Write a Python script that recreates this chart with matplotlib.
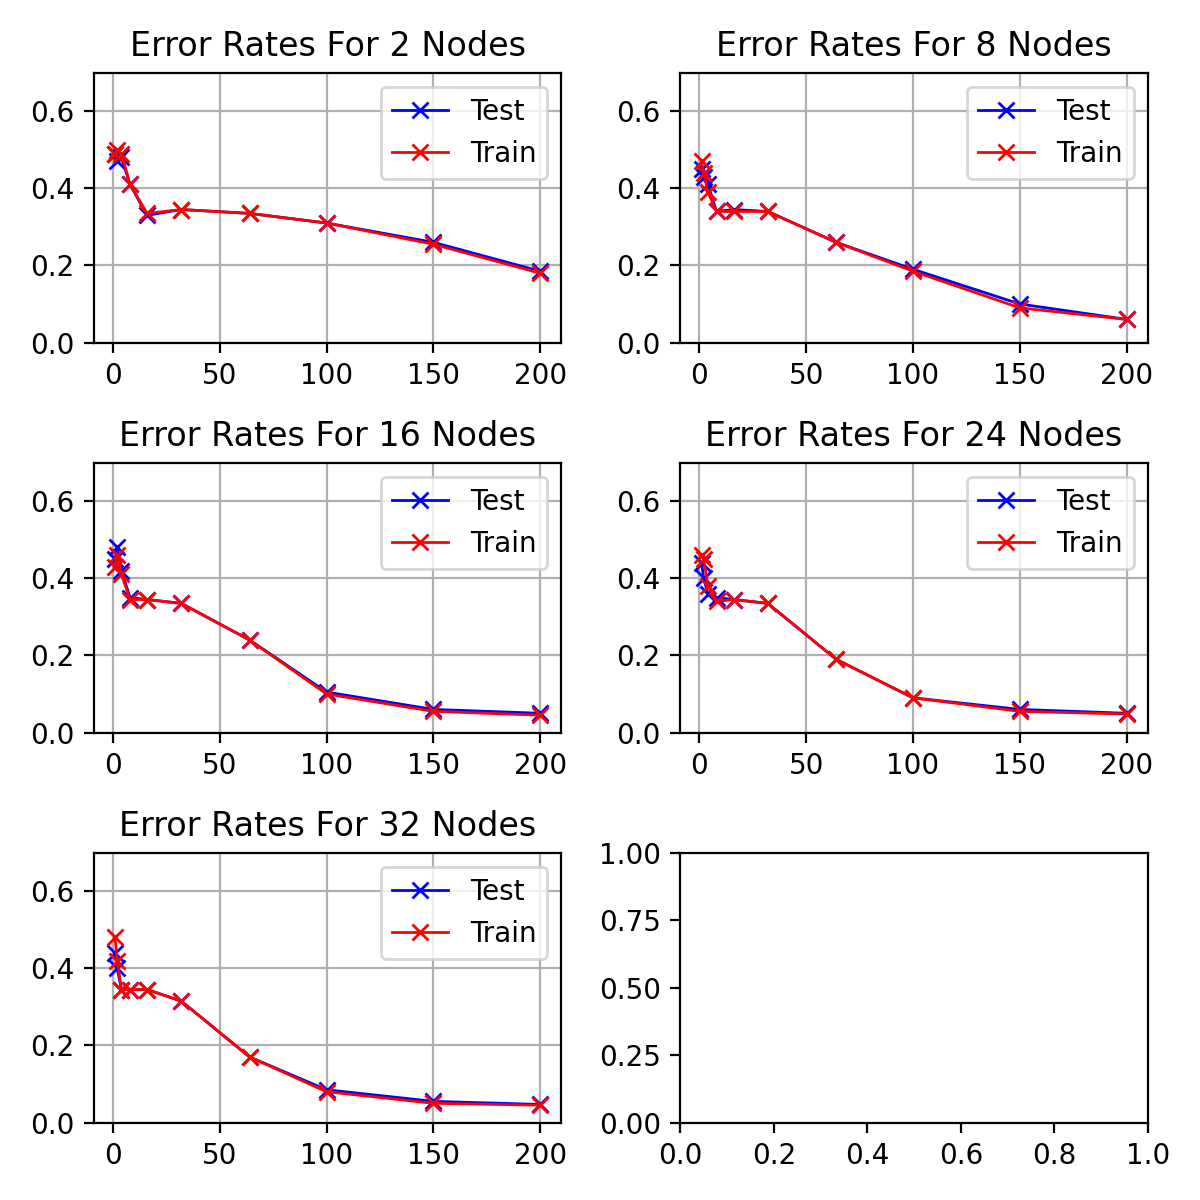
import matplotlib
matplotlib.use("Agg")
import matplotlib.pyplot as plt

epochs = [1, 2, 4, 8, 16, 32, 64, 100, 150, 200]
nodes = [2, 8, 16, 24, 32]
test_err = {
    2: [0.49, 0.47, 0.48, 0.41, 0.33, 0.345, 0.335, 0.31, 0.26, 0.185],
    8: [0.45, 0.43, 0.41, 0.34, 0.345, 0.34, 0.26, 0.19, 0.10, 0.06],
    16: [0.45, 0.48, 0.42, 0.35, 0.345, 0.335, 0.24, 0.105, 0.06, 0.05],
    24: [0.44, 0.40, 0.36, 0.35, 0.345, 0.335, 0.19, 0.09, 0.06, 0.05],
    32: [0.44, 0.40, 0.345, 0.345, 0.345, 0.315, 0.17, 0.085, 0.055, 0.047],
}
train_err = {
    2: [0.49, 0.50, 0.49, 0.41, 0.335, 0.345, 0.335, 0.31, 0.255, 0.18],
    8: [0.47, 0.44, 0.39, 0.34, 0.34, 0.34, 0.26, 0.185, 0.09, 0.06],
    16: [0.43, 0.46, 0.41, 0.345, 0.345, 0.335, 0.24, 0.10, 0.055, 0.045],
    24: [0.46, 0.45, 0.38, 0.34, 0.345, 0.335, 0.19, 0.09, 0.055, 0.048],
    32: [0.48, 0.42, 0.345, 0.345, 0.345, 0.315, 0.17, 0.08, 0.05, 0.045],
}

fig, axes = plt.subplots(3, 2, figsize=(6, 6), dpi=200)
axes = axes.flatten()
for i, n in enumerate(nodes):
    ax = axes[i]
    ax.plot(epochs, test_err[n], 'b-x', lw=1, label='Test')
    ax.plot(epochs, train_err[n], 'r-x', lw=1, label='Train')
    ax.set_title(f'Error Rates For {n} Nodes')
    ax.set_ylim(0, 0.7)
    ax.grid(True)
    ax.legend(loc='upper right')
plt.tight_layout()
plt.savefig('out.png')
